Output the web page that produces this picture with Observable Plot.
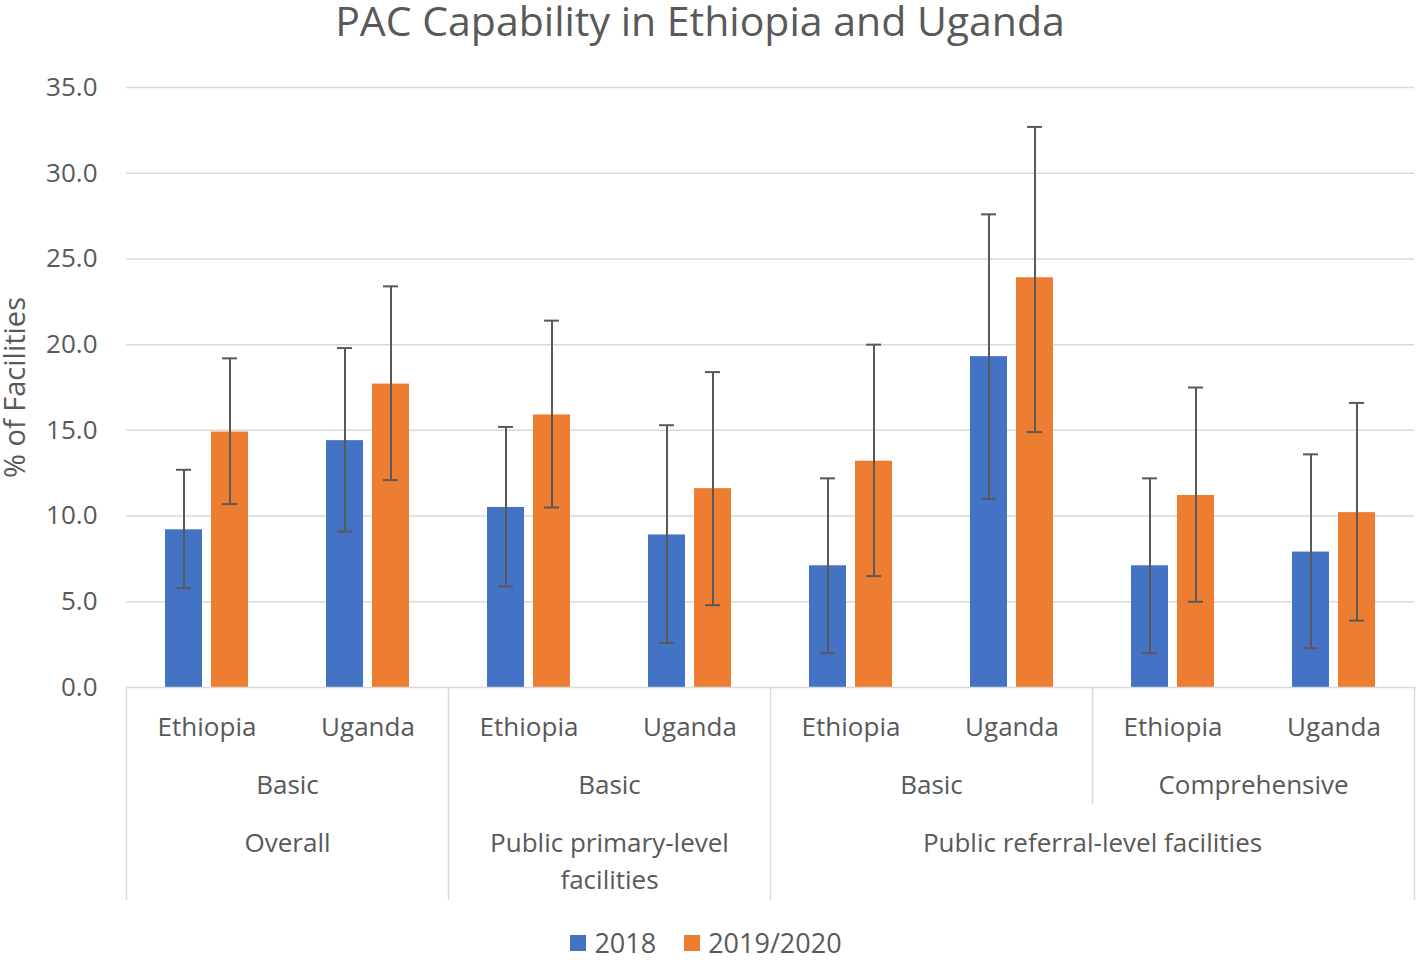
<!DOCTYPE html>
<html>
<head>
<meta charset="utf-8">
<script src="https://cdn.jsdelivr.net/npm/d3@7"></script>
<script src="https://cdn.jsdelivr.net/npm/@observablehq/plot@0.6"></script>
<style>
  body { margin: 0; background: #fff; font-family: "Open Sans", sans-serif; color: #595959; }
  #wrap { width: 1416px; height: 960px; position: relative; overflow: hidden; background: #fff; }
  #title { position: absolute; left: 0; top: 0; width: 1416px; height: 40px; line-height: 40px; font-size: 41px; text-align: center; white-space: nowrap; padding-right: 16px; box-sizing: border-box; color: #595959; }
  #chart { position: absolute; left: 0; top: 40px; }
  #cats { position: absolute; left: 0; top: 687px; }
  #legend { position: absolute; left: 0; top: 926px; width: 1416px; height: 34px; display: flex; justify-content: center; align-items: center; padding-right: 4px; box-sizing: border-box; }
  .lg-swatch > svg { margin-right: 8px !important; }
  .lg-swatch { margin-right: 28px !important; }
  .lg-swatch:last-child { margin-right: 0 !important; }
  .lg-swatches { margin: 0 !important; min-height: 0 !important; }
</style>
</head>
<body>
<div id="wrap">
  <div id="title">PAC Capability in Ethiopia and Uganda</div>
  <div id="chart"></div>
  <div id="cats"></div>
  <div id="legend"></div>
</div>
<script>
// ---- data ----
const countries  = ["Ethiopia", "Uganda", "Ethiopia", "Uganda", "Ethiopia", "Uganda", "Ethiopia", "Uganda"];
const capability = ["Basic", "Basic", "Basic", "Basic", "Basic", "Basic", "Comprehensive", "Comprehensive"];
const facility   = ["Overall", "Overall",
                    "Public primary-level facilities", "Public primary-level facilities",
                    "Public referral-level facilities", "Public referral-level facilities",
                    "Public referral-level facilities", "Public referral-level facilities"];
const series = ["2018", "2019/2020"];
const colors = ["#4472C4", "#ED7D31"];
const v2018  = [9.2, 14.4, 10.5, 8.9, 7.1, 19.3, 7.1, 7.9];
const lo2018 = [5.8, 9.1, 5.9, 2.6, 2.0, 11.0, 2.0, 2.3];
const hi2018 = [12.7, 19.8, 15.2, 15.3, 12.2, 27.6, 12.2, 13.6];
const v2019  = [14.9, 17.7, 15.9, 11.6, 13.2, 23.9, 11.2, 10.2];
const lo2019 = [10.7, 12.1, 10.5, 4.8, 6.5, 14.9, 5.0, 3.9];
const hi2019 = [19.2, 23.4, 21.4, 18.4, 20.0, 32.7, 17.5, 16.6];
const yTicks = [0, 5, 10, 15, 20, 25, 30, 35];
const yLabel = "% of Facilities";

// ---- build table ----
const n = countries.length;
const rows = [];
for (let i = 0; i < n; i++) {
  rows.push({cat: i, series: series[0], value: v2018[i], lo: lo2018[i], hi: hi2018[i]});
  rows.push({cat: i, series: series[1], value: v2019[i], lo: lo2019[i], hi: hi2019[i]});
}

const FONT = '"Open Sans", sans-serif';
const TXT = "#595959";
const GRID = "#d9d9d9";
const ERR = "#595959";

const main = Plot.plot({
  width: 1416, height: 647,
  marginTop: 47, marginBottom: 0, marginLeft: 126, marginRight: 2,
  style: {fontFamily: FONT, fontSize: "26px", color: TXT, background: "transparent", overflow: "visible"},
  fx: {domain: d3.range(n), paddingInner: 0, paddingOuter: 0, axis: null, label: null},
  x: {domain: series, paddingInner: 0.196, paddingOuter: 0.848, axis: null, label: null},
  y: {domain: [0, 35], axis: null},
  color: {domain: series, range: colors},
  marks: [
    Plot.gridY(yTicks.filter(d => d > 0), {stroke: GRID, strokeOpacity: 1, strokeWidth: 1.5}),
    Plot.barY(rows, {fx: "cat", x: "series", y: "value", fill: "series"}),
    Plot.ruleX(rows, {fx: "cat", x: "series", y1: "lo", y2: "hi", stroke: ERR, strokeWidth: 2}),
    Plot.tickY(rows, {fx: "cat", x: "series", y: "lo", stroke: ERR, strokeWidth: 2, insetLeft: 11, insetRight: 11}),
    Plot.tickY(rows, {fx: "cat", x: "series", y: "hi", stroke: ERR, strokeWidth: 2, insetLeft: 11, insetRight: 11}),
    Plot.axisY(yTicks, {tickSize: 0, tickPadding: 29, tickFormat: d3.format(".1f"), fontSize: 26, fill: TXT, label: null}),
    Plot.axisY({ticks: [], tickSize: 0, fontSize: 29, fill: TXT,
      label: yLabel, labelAnchor: "center", labelArrow: "none", labelOffset: 122})
  ]
});
document.getElementById("chart").appendChild(main);

// ---- multi-level category axis ----
function runs(keyFn, labelFn) {
  const out = [];
  let s = 0;
  for (let i = 1; i <= n; i++) {
    if (i === n || keyFn(i) !== keyFn(s)) { out.push({start: s, end: i, label: labelFn(s)}); s = i; }
  }
  return out;
}
const lvl2 = runs(i => facility[i] + "|" + capability[i], i => capability[i]);
const lvl3 = runs(i => facility[i], i => facility[i]);
const major = Array.from(new Set([0, ...lvl3.map(r => r.end)]));
const minor = lvl2.map(r => r.end).filter(b => !major.includes(b));
const colW = (1416 - 126 - 2) / n;
const FS = 26;

const cats = Plot.plot({
  width: 1416, height: 213,
  marginTop: 0, marginBottom: 0, marginLeft: 126, marginRight: 2,
  style: {fontFamily: FONT, fontSize: "26px", color: TXT, background: "transparent", overflow: "visible"},
  x: {domain: [0, n], axis: null},
  marks: [
    Plot.frame({anchor: "top", stroke: GRID, strokeWidth: 1.5}),
    Plot.ruleX(major, {stroke: GRID, strokeWidth: 1.5}),
    Plot.ruleX(minor, {stroke: GRID, strokeWidth: 1.5, insetBottom: 96}),
    Plot.text(d3.range(n), {x: i => i + 0.5, text: i => countries[i], frameAnchor: "top", dy: 40,
      lineAnchor: "middle", fontSize: FS, fill: TXT}),
    Plot.text(lvl2, {x: r => (r.start + r.end) / 2, text: "label", frameAnchor: "top", dy: 98,
      lineAnchor: "middle", fontSize: FS, fill: TXT}),
    ...lvl3.map(r => Plot.text([r], {x: d => (d.start + d.end) / 2, text: "label", frameAnchor: "top", dy: 138,
      lineAnchor: "top", fontSize: FS, fill: TXT, lineHeight: 1.42,
      lineWidth: (r.end - r.start) * colW / FS * 0.85}))
  ]
});
document.getElementById("cats").appendChild(cats);

// ---- legend ----
const leg = Plot.legend({
  color: {domain: series, range: colors},
  legend: "swatches", swatchSize: 16, className: "lg",
  style: {fontFamily: FONT, fontSize: "27px", color: TXT, lineHeight: "34px"}
});
document.getElementById("legend").appendChild(leg);
</script>
</body>
</html>
